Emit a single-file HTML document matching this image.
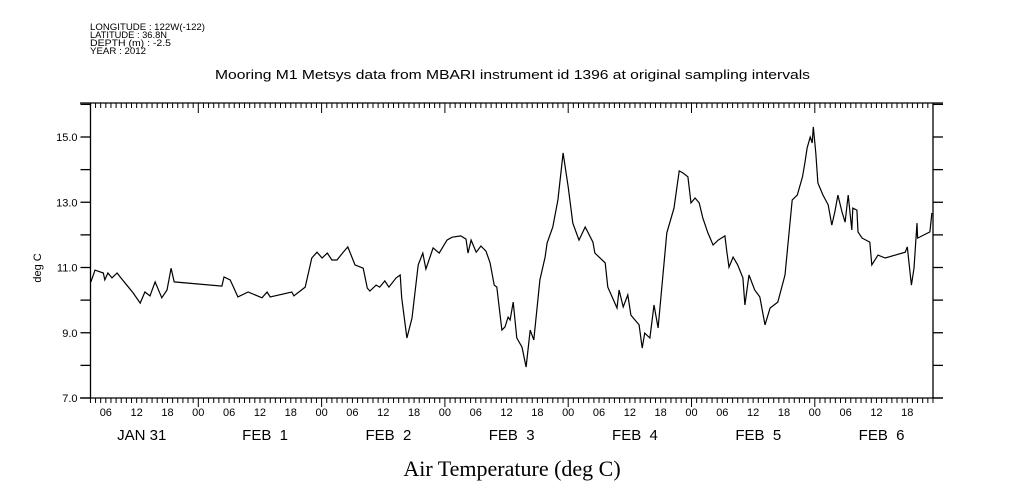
<!DOCTYPE html>
<html><head><meta charset="utf-8">
<style>
body{margin:0;background:#fff;}
svg{display:block;font-family:"Liberation Sans",sans-serif;}
.pre{white-space:pre;}
</style></head>
<body>
<svg id="chart" width="1009" height="504" viewBox="0 0 1009 504" xmlns="http://www.w3.org/2000/svg">
<g font-size="9" fill="#000">
<text x="90" y="30" textLength="115" lengthAdjust="spacingAndGlyphs">LONGITUDE : 122W(-122)</text>
<text x="90" y="38" textLength="77" lengthAdjust="spacingAndGlyphs">LATITUDE : 36.8N</text>
<text x="90" y="46" textLength="81" lengthAdjust="spacingAndGlyphs">DEPTH (m) : -2.5</text>
<text x="90" y="54" textLength="56" lengthAdjust="spacingAndGlyphs">YEAR : 2012</text>
</g>
<text x="215" y="79" textLength="595" lengthAdjust="spacingAndGlyphs" font-size="12.5">Mooring M1 Metsys data from MBARI instrument id 1396 at original sampling intervals</text>
<text transform="translate(41,268) rotate(-90)" text-anchor="middle" font-size="11">deg C</text>
<text x="512" y="476" text-anchor="middle" font-size="22" font-family="Liberation Serif, serif">Air Temperature (deg C)</text>
<g id="axes"></g>
<g id="series"></g>
</svg>
<script>
const hours=[3.1,3.9,5.5,5.8,6.4,7.2,8.2,8.8,11.3,12.7,13.6,14.6,15.6,16.9,17.9,18.7,19.3,28.6,29.0,30.2,31.7,33.7,36.4,37.4,38.0,42.2,42.6,44.8,46.1,47.1,48.1,49.1,50.0,51.0,52.2,53.1,54.5,56.1,56.9,57.4,58.6,59.3,60.3,61.1,62.5,63.3,63.6,64.6,65.6,66.8,67.7,68.3,69.7,70.9,72.4,73.4,75.1,76.1,76.5,77.1,78.1,79.0,80.0,80.8,81.6,82.1,83.1,83.7,84.3,84.7,85.3,86.0,87.0,87.8,88.6,89.3,90.5,91.5,91.9,93.0,94.0,95.0,96.0,96.9,98.1,99.3,100.8,101.2,103.2,103.7,105.5,105.9,106.7,107.6,108.2,109.8,110.4,110.9,111.9,112.7,113.5,114.3,115.2,116.6,117.6,118.3,119.3,119.9,120.7,121.5,122.2,123.2,124.2,125.2,126.5,126.9,127.3,128.1,129.0,130.0,130.4,131.2,132.3,133.3,134.3,135.3,136.8,138.2,139.6,140.6,141.6,142.1,142.5,143.1,143.5,143.7,144.2,144.6,145.6,146.6,147.3,147.9,148.5,149.3,149.9,150.5,151.2,151.4,152.2,152.4,153.2,154.7,155.1,156.3,157.7,161.6,162.0,162.8,163.3,163.9,164.0,166.4,166.8];
const temps=[10.56,10.92,10.83,10.62,10.83,10.68,10.83,10.71,10.22,9.91,10.25,10.13,10.56,10.07,10.31,10.98,10.56,10.43,10.71,10.62,10.10,10.25,10.07,10.25,10.10,10.25,10.13,10.40,11.29,11.47,11.29,11.44,11.23,11.23,11.47,11.63,11.08,10.98,10.37,10.28,10.46,10.40,10.59,10.40,10.68,10.77,10.07,8.84,9.45,11.08,11.44,10.95,11.60,11.44,11.84,11.93,11.97,11.87,11.44,11.84,11.47,11.66,11.50,11.14,10.46,10.40,9.08,9.18,9.48,9.39,9.94,8.84,8.56,7.95,9.08,8.78,10.62,11.32,11.75,12.24,13.07,14.51,13.47,12.36,11.84,12.24,11.78,11.44,11.14,10.40,9.76,10.31,9.79,10.16,9.54,9.24,8.53,8.99,8.84,9.85,9.15,10.52,12.06,12.82,13.96,13.90,13.78,12.98,13.13,12.98,12.52,12.06,11.69,11.84,11.97,11.47,11.01,11.32,11.08,10.68,9.85,10.77,10.31,10.10,9.24,9.76,9.94,10.77,13.07,13.22,13.78,14.23,14.66,15.00,14.82,15.31,14.51,13.59,13.22,12.92,12.30,12.70,13.22,12.70,12.39,13.22,12.15,12.82,12.76,12.09,11.90,11.78,11.08,11.38,11.29,11.47,11.63,10.46,10.98,12.36,11.90,12.09,12.67];
const yTickValues=[7,9,11,13,15];
const yTickLabels=["7.0","9.0","11.0","13.0","15.0"];
const hourLabels=["00","06","12","18"];
const dayLabels=["JAN 31","FEB  1","FEB  2","FEB  3","FEB  4","FEB  5","FEB  6"];

const L=90.5,R=933,T=103,B=398;
const H0=2.9,H1=167.3;
const DAY=123.3;
function xs(h){return 75+h*DAY/24;}
function ys(v){return B-(v-7)*(B-137)/8;}
const NS="http://www.w3.org/2000/svg";
function mk(tag,attrs,parent){const e=document.createElementNS(NS,tag);for(const k in attrs)e.setAttribute(k,attrs[k]);parent.appendChild(e);return e;}
const ax=document.getElementById('axes');
const st={stroke:"#000","stroke-width":1.3,fill:"none"};
let e;
e=mk('line',Object.assign({x1:80,y1:T,x2:943,y2:T},st),ax);


e=mk('line',Object.assign({x1:L,y1:T,x2:L,y2:B},st),ax);


e=mk('line',Object.assign({x1:R,y1:T,x2:R,y2:B},st),ax);


e=mk('line',Object.assign({x1:80,y1:B,x2:943,y2:B},st),ax);


for(let h=Math.ceil(H0);h<=H1;h++){
  const x=xs(h);const major=h%24===0;
  e=mk('line',{x1:x,y1:B,x2:x,y2:B+(major?9:5),stroke:"#000","stroke-width":1},ax);
  
  
  e=mk('line',{x1:x,y1:T,x2:x,y2:T+(major?10:5),stroke:"#000","stroke-width":1},ax);
  
  
  if(h%6===0){
    e=mk('text',{x:x,y:B+18,"text-anchor":"middle","font-size":"11"},ax);
    e.textContent=hourLabels[(h%24)/6];
    
    
  }
}
for(let d=0;d<dayLabels.length;d++){
  e=mk('text',{x:xs(d*24+13),y:B+42,"text-anchor":"middle","font-size":"15","class":"pre"},ax);
  e.textContent=dayLabels[d];
  
  
}
for(let v=7;v<=16;v++){
  const y=ys(v);
  e=mk('line',{x1:L-10,y1:y,x2:L,y2:y,stroke:"#000","stroke-width":1.3},ax);
  
  
  e=mk('line',{x1:R,y1:y,x2:R+10,y2:y,stroke:"#000","stroke-width":1.3},ax);
  
  
}
yTickValues.forEach((v,i)=>{
  e=mk('text',{x:L-13,y:ys(v)+4,"text-anchor":"end","font-size":"11"},ax);
  e.textContent=yTickLabels[i];
  
  
});
const pts=hours.map((h,i)=>xs(h).toFixed(1)+","+ys(temps[i]).toFixed(1)).join(" ");
e=mk('polyline',{points:pts,fill:"none",stroke:"#000","stroke-width":1.2,"stroke-linejoin":"miter"},document.getElementById('series'));


</script>
</body></html>
